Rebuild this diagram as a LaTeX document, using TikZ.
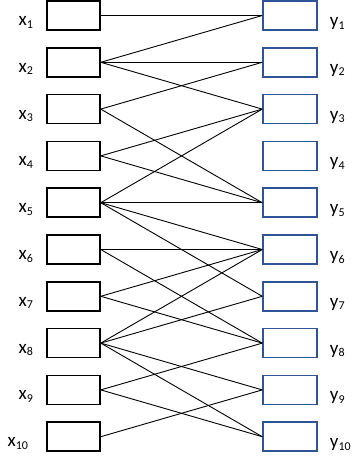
\documentclass[tikz,border=0pt]{standalone}
\usepackage{fontspec}
\setmainfont{Carlito}
\usetikzlibrary{positioning}
\definecolor{rblue}{RGB}{47,85,151}
\newcommand{\vname}[2]{#1\raisebox{-2.6pt}{\fontsize{12}{13}\selectfont #2}}

\begin{document}
\begin{tikzpicture}[
    x=1pt,y=1pt,
    node distance=16.3pt and 161.5pt,
    lbox/.style={rectangle,draw=black,line width=1.5pt,minimum width=53pt,minimum height=29pt,inner sep=0pt},
    rbox/.style={rectangle,draw=rblue,line width=1.5pt,minimum width=54pt,minimum height=29pt,inner sep=0pt},
    xlab/.style={anchor=base east,inner sep=0pt,font=\fontsize{19}{21}\selectfont},
    ylab/.style={anchor=base west,inner sep=0pt,font=\fontsize{19}{21}\selectfont},
    edge/.style={draw=black,line width=0.9pt}
  ]
    \useasboundingbox (0,0) rectangle (352,-457);

    % left column
    \node[lbox] (x1) at (73.5,-15.5) {};
    \node[lbox,below=of x1] (x2) {};
    \node[lbox,below=of x2] (x3) {};
    \node[lbox,below=of x3] (x4) {};
    \node[lbox,below=of x4] (x5) {};
    \node[lbox,below=of x5] (x6) {};
    \node[lbox,below=of x6] (x7) {};
    \node[lbox,below=of x7] (x8) {};
    \node[lbox,below=of x8] (x9) {};
    \node[lbox,below=of x9] (x10) {};

    % right column
    \node[rbox,right=of x1] (y1) {};
    \node[rbox,below=of y1] (y2) {};
    \node[rbox,below=of y2] (y3) {};
    \node[rbox,below=of y3] (y4) {};
    \node[rbox,below=of y4] (y5) {};
    \node[rbox,below=of y5] (y6) {};
    \node[rbox,below=of y6] (y7) {};
    \node[rbox,below=of y7] (y8) {};
    \node[rbox,below=of y8] (y9) {};
    \node[rbox,below=of y9] (y10) {};

    % labels
    \node[xlab] (lx1) at ([xshift=-13pt,yshift=-10pt]x1.west) {\vname{x}{1}};
    \node[xlab] (lx2) at ([xshift=-13pt,yshift=-10pt]x2.west) {\vname{x}{2}};
    \node[xlab] (lx3) at ([xshift=-13pt,yshift=-10pt]x3.west) {\vname{x}{3}};
    \node[xlab] (lx4) at ([xshift=-13pt,yshift=-10pt]x4.west) {\vname{x}{4}};
    \node[xlab] (lx5) at ([xshift=-13pt,yshift=-10pt]x5.west) {\vname{x}{5}};
    \node[xlab] (lx6) at ([xshift=-13pt,yshift=-10pt]x6.west) {\vname{x}{6}};
    \node[xlab] (lx7) at ([xshift=-13pt,yshift=-10pt]x7.west) {\vname{x}{7}};
    \node[xlab] (lx8) at ([xshift=-13pt,yshift=-10pt]x8.west) {\vname{x}{8}};
    \node[xlab] (lx9) at ([xshift=-13pt,yshift=-10pt]x9.west) {\vname{x}{9}};
    \node[xlab] (lx10) at ([xshift=-18pt,yshift=-10pt]x10.west) {\vname{x}{10}};

    \node[ylab] (ly1) at ([xshift=12pt,yshift=-11pt]y1.east) {\vname{y}{1}};
    \node[ylab] (ly2) at ([xshift=12pt,yshift=-11pt]y2.east) {\vname{y}{2}};
    \node[ylab] (ly3) at ([xshift=12pt,yshift=-11pt]y3.east) {\vname{y}{3}};
    \node[ylab] (ly4) at ([xshift=12pt,yshift=-11pt]y4.east) {\vname{y}{4}};
    \node[ylab] (ly5) at ([xshift=12pt,yshift=-11pt]y5.east) {\vname{y}{5}};
    \node[ylab] (ly6) at ([xshift=12pt,yshift=-11pt]y6.east) {\vname{y}{6}};
    \node[ylab] (ly7) at ([xshift=12pt,yshift=-11pt]y7.east) {\vname{y}{7}};
    \node[ylab] (ly8) at ([xshift=12pt,yshift=-11pt]y8.east) {\vname{y}{8}};
    \node[ylab] (ly9) at ([xshift=12pt,yshift=-11pt]y9.east) {\vname{y}{9}};
    \node[ylab] (ly10) at ([xshift=12pt,yshift=-11pt]y10.east) {\vname{y}{10}};

    % connections
    \draw[edge] (x1.east) -- (y1.west);
    \draw[edge] (x2.east) -- (y1.west);
    \draw[edge] (x2.east) -- (y2.west);
    \draw[edge] (x2.east) -- (y3.west);
    \draw[edge] (x3.east) -- (y2.west);
    \draw[edge] (x3.east) -- (y5.west);
    \draw[edge] (x4.east) -- (y3.west);
    \draw[edge] (x4.east) -- (y5.west);
    \draw[edge] (x5.east) -- (y3.west);
    \draw[edge] (x5.east) -- (y5.west);
    \draw[edge] (x5.east) -- (y6.west);
    \draw[edge] (x5.east) -- (y7.west);
    \draw[edge] (x6.east) -- (y6.west);
    \draw[edge] (x6.east) -- (y8.west);
    \draw[edge] (x7.east) -- (y6.west);
    \draw[edge] (x7.east) -- (y8.west);
    \draw[edge] (x8.east) -- (y6.west);
    \draw[edge] (x8.east) -- (y7.west);
    \draw[edge] (x8.east) -- (y9.west);
    \draw[edge] (x8.east) -- (y10.west);
    \draw[edge] (x9.east) -- (y8.west);
    \draw[edge] (x9.east) -- (y10.west);
    \draw[edge] (x10.east) -- (y9.west);
  \end{tikzpicture}
\end{document}
